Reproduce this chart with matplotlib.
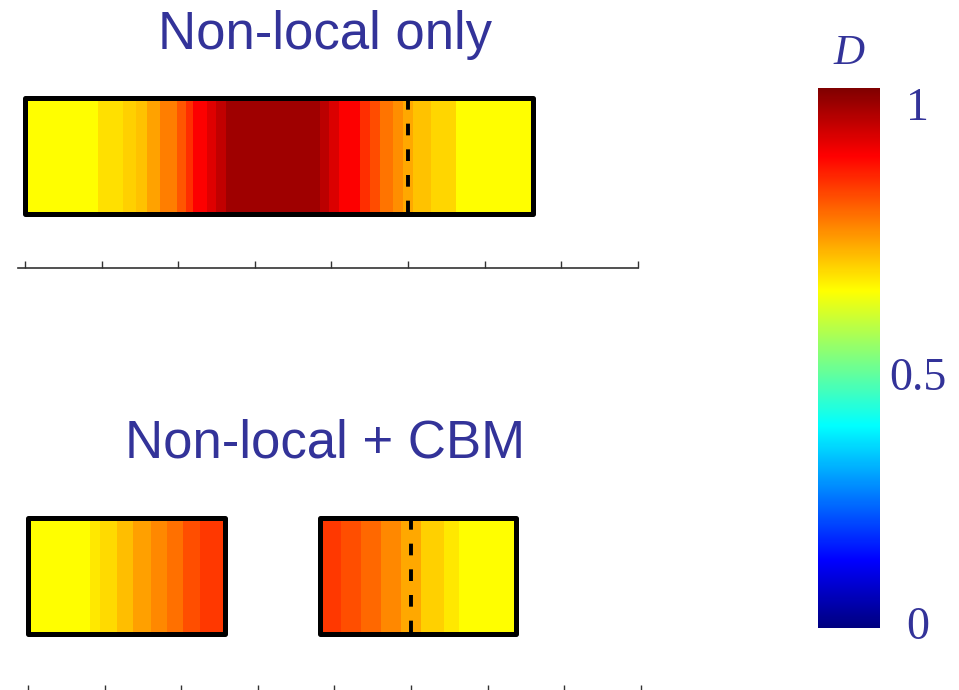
import numpy as np
import matplotlib
matplotlib.use("Agg")
import matplotlib.pyplot as plt
from matplotlib.patches import Rectangle
from matplotlib.cm import ScalarMappable
from matplotlib.colors import Normalize, LinearSegmentedColormap

# damage profile along the bar, "Non-local only" (bands, x in tick units)
top_edges = [0, 0.95, 1.28, 1.45, 1.59, 1.76, 1.98, 2.1, 2.19, 2.37, 2.5,
             2.63, 3.85, 3.97, 4.1, 4.37, 4.5, 4.63, 4.8, 4.93, 5.06, 5.3,
             5.63, 6.63]
top_D = [0.625, 0.655, 0.67, 0.685, 0.715, 0.75, 0.79, 0.83, 0.875, 0.905,
         0.935, 0.967, 0.94, 0.91, 0.875, 0.83, 0.80, 0.76, 0.735, 0.71,
         0.685, 0.665, 0.625]

# "Non-local + CBM": two separate pieces
left_edges = [0, 0.81, 0.94, 1.16, 1.37, 1.6, 1.82, 2.03, 2.25, 2.57]
left_D = [0.625, 0.647, 0.662, 0.6875, 0.717, 0.742, 0.765, 0.797, 0.82]
right_edges = [3.81, 4.08, 4.35, 4.61, 4.87, 5.13, 5.43, 5.62, 6.37]
right_D = [0.82, 0.797, 0.772, 0.742, 0.71, 0.671, 0.647, 0.625]

crack_x = 5.0
x_ticks = [0, 1, 2, 3, 4, 5, 6, 7, 8]
cbar_ticks = [0, 0.5, 1]
cbar_labels = ['0', '0.5', '1']

# matlab style jet
jet_nodes = [0, 0.125, 0.375, 0.625, 0.875, 1]
jet_cols = [(0, 0, 0.5), (0, 0, 1), (0, 1, 1), (1, 1, 0), (1, 0, 0), (0.5, 0, 0)]
cmap = LinearSegmentedColormap.from_list('mjet', list(zip(jet_nodes, jet_cols)), N=512)

title_col = '#333399'
W, H = 959, 690
fig = plt.figure(figsize=(W / 100, H / 100), dpi=100)

def px_axes(x0, y_top, x1, y_bot):
    return fig.add_axes([x0 / W, 1 - y_bot / H, (x1 - x0) / W, (y_bot - y_top) / H])

def draw_bar(ax, edges, vals):
    ax.pcolormesh(edges, [0, 1], [vals], cmap=cmap, vmin=0, vmax=1,
                  shading='flat', antialiased=False)
    ax.add_patch(Rectangle((edges[0], 0), edges[-1] - edges[0], 1, fill=False,
                           ec='black', lw=3.6, joinstyle='round', clip_on=False,
                           zorder=5))

def style_axis(ax, ylo):
    ax.set_xlim(-0.09, 8)
    ax.set_ylim(ylo, 1.069)
    for s in ['top', 'left', 'right']:
        ax.spines[s].set_visible(False)
    ax.spines['bottom'].set_color('#333333')
    ax.spines['bottom'].set_linewidth(1.2)
    ax.set_xticks(x_ticks)
    ax.tick_params(axis='x', direction='in', length=5, width=1.0,
                   color='#333333', labelbottom=False)
    ax.set_yticks([])
    ax.patch.set_alpha(0)

# top panel
ax1 = px_axes(18, 90, 638, 268)
draw_bar(ax1, top_edges, top_D)
ax1.plot([crack_x, crack_x], [1, 0], color='black', lw=2.8,
         ls=(0, (3.0, 3.6)), zorder=6)
style_axis(ax1, -0.466)

# bottom panel
ax2 = px_axes(21, 510, 641, 692)
draw_bar(ax2, left_edges, left_D)
draw_bar(ax2, right_edges, right_D)
ax2.plot([crack_x, crack_x], [1, 0], color='black', lw=2.8,
         ls=(0, (3.0, 3.6)), zorder=6)
style_axis(ax2, -0.5)

fig.text(325 / W, 1 - 49 / H, 'Non-local only', ha='center', va='baseline',
         fontsize=38, color=title_col, family='Liberation Sans')
fig.text(325 / W, 1 - 457 / H, 'Non-local + CBM', ha='center', va='baseline',
         fontsize=38, color=title_col, family='Liberation Sans')

# colorbar
cax = px_axes(818, 88, 880, 628)
cb = fig.colorbar(ScalarMappable(norm=Normalize(0, 1), cmap=cmap), cax=cax)
cb.outline.set_visible(False)
cb.set_ticks(cbar_ticks)
cb.set_ticklabels(cbar_labels)
cax.tick_params(length=0, pad=27, labelsize=33, labelcolor=title_col)
for lbl, va in zip(cax.get_yticklabels(), ['center', 'top', 'top']):
    lbl.set_ha('center')
    lbl.set_va(va)
    lbl.set_family('Liberation Serif')
fig.text(849 / W, 1 - 54 / H, 'D', ha='center', va='center', fontsize=31,
         style='italic', color=title_col, family='Liberation Serif')

fig.savefig('out.png', dpi=100, facecolor='white')
